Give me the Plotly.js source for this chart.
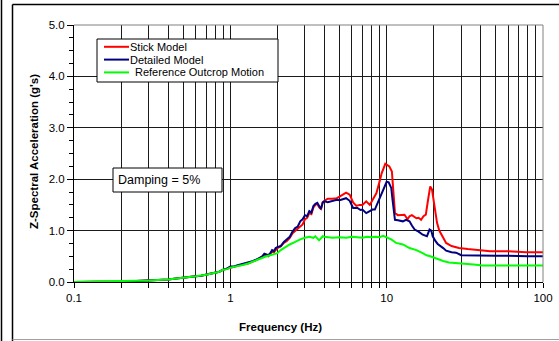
<!DOCTYPE html>
<html>
<head>
<meta charset="utf-8">
<script src="https://cdn.plot.ly/plotly-3.0.1.min.js"></script>
<style>html,body{margin:0;padding:0;background:#fff;}#chart{width:559px;height:341px;}</style>
</head>
<body>
<div id="chart"></div>
<script>
// ---- data ----
const seriesNames = ['Stick Model', 'Detailed Model', 'Reference Outcrop Motion'];
const seriesColors = ['#FF0000', '#000080', '#00FF00'];

const stickFreq = [0.1,0.15,0.2,0.25,0.3,0.35,0.4,0.45,0.5,0.55,0.6,0.65,0.7,0.75,0.8,0.85,0.9,0.95,1.0,1.1,1.2,1.3,1.4,1.5,1.6,1.65,1.75,1.8,1.85,1.9,1.95,2.0,2.1,2.2,2.3,2.4,2.5,2.6,2.7,2.8,2.9,3.0,3.1,3.2,3.3,3.4,3.5,3.6,3.7,3.8,3.9,4.0,4.2,4.5,4.8,5.0,5.3,5.5,5.8,6.1,6.4,6.7,7.0,7.4,7.8,8.1,8.6,9.0,9.3,9.8,10.4,10.8,11.0,11.3,11.8,12.5,13.0,13.6,14.0,14.5,15.0,15.5,16.0,16.6,17.2,17.8,18.4,19.0,19.5,20.2,21.0,21.7,23,24,26,29,33,39,46,60,78,100];
const stickAcc  = [0,0,0.01,0.02,0.03,0.04,0.05,0.07,0.08,0.10,0.11,0.12,0.14,0.16,0.18,0.20,0.24,0.26,0.29,0.31,0.34,0.36,0.40,0.44,0.49,0.53,0.50,0.54,0.60,0.58,0.63,0.66,0.69,0.76,0.80,0.86,0.95,1.00,1.03,1.08,1.12,1.22,1.25,1.34,1.32,1.45,1.50,1.52,1.45,1.42,1.55,1.58,1.62,1.62,1.63,1.66,1.70,1.74,1.70,1.55,1.48,1.50,1.50,1.57,1.50,1.60,1.73,1.95,2.12,2.30,2.25,2.15,1.80,1.34,1.30,1.30,1.31,1.22,1.28,1.30,1.26,1.24,1.25,1.21,1.28,1.31,1.60,1.86,1.80,1.47,1.15,1.00,0.85,0.76,0.70,0.66,0.64,0.62,0.60,0.60,0.58,0.58];

const detailedFreq = [0.1,0.15,0.2,0.25,0.3,0.35,0.4,0.45,0.5,0.55,0.6,0.65,0.7,0.75,0.8,0.85,0.9,0.95,1.0,1.05,1.1,1.2,1.3,1.4,1.5,1.6,1.65,1.75,1.8,1.85,1.9,1.95,2.0,2.1,2.2,2.3,2.4,2.5,2.6,2.7,2.8,2.9,3.0,3.1,3.2,3.3,3.4,3.5,3.6,3.7,3.8,3.9,4.0,4.2,4.5,4.8,5.0,5.3,5.5,5.8,6.1,6.5,6.8,7.0,7.4,7.8,8.1,8.4,8.8,9.2,9.5,10.0,10.3,10.7,10.9,11.3,11.8,12.7,13.3,14.0,14.5,15.1,16.0,17.0,18.1,18.8,19.3,19.7,20.6,21.2,23,24,26,27.8,30,37,40,50,60,70,80,100];
const detailedAcc  = [0,0,0.01,0.02,0.03,0.04,0.05,0.07,0.08,0.10,0.11,0.12,0.14,0.16,0.18,0.20,0.24,0.26,0.30,0.30,0.32,0.35,0.37,0.41,0.45,0.50,0.55,0.52,0.56,0.62,0.60,0.66,0.68,0.70,0.78,0.83,0.88,0.98,1.05,1.08,1.18,1.22,1.30,1.28,1.38,1.35,1.48,1.52,1.54,1.48,1.42,1.55,1.57,1.55,1.58,1.60,1.59,1.62,1.63,1.58,1.44,1.44,1.40,1.41,1.34,1.38,1.41,1.41,1.55,1.70,1.80,1.95,1.94,1.83,1.60,1.21,1.20,1.18,1.21,1.18,1.10,1.02,0.98,0.92,0.89,1.02,1.00,0.89,0.79,0.74,0.66,0.61,0.58,0.57,0.52,0.51,0.51,0.51,0.51,0.50,0.50,0.50];

const refFreq = [0.1,0.2,0.3,0.4,0.5,0.6,0.7,0.8,0.85,0.9,0.95,1.0,1.1,1.2,1.3,1.4,1.5,1.6,1.7,1.8,1.9,2.0,2.1,2.2,2.4,2.6,2.8,3.0,3.2,3.4,3.5,3.7,3.9,4.0,4.5,5.0,5.5,6.0,6.5,7.0,7.5,8.0,8.5,9.0,9.5,10.0,10.7,11.5,12.7,14.0,15.5,17.0,18.0,19.0,21.0,23,25,28,32,36,41,50,70,100];
const refAcc  = [0,0.01,0.03,0.05,0.08,0.11,0.14,0.18,0.20,0.24,0.25,0.28,0.30,0.33,0.36,0.40,0.43,0.47,0.50,0.52,0.54,0.56,0.62,0.66,0.73,0.78,0.83,0.86,0.88,0.86,0.89,0.81,0.89,0.88,0.86,0.87,0.86,0.88,0.87,0.86,0.88,0.87,0.88,0.87,0.90,0.87,0.83,0.76,0.73,0.66,0.62,0.56,0.52,0.50,0.45,0.41,0.38,0.37,0.35,0.34,0.32,0.32,0.32,0.32];

const xTickVals = [0.1,0.2,0.3,0.4,0.5,0.6,0.7,0.8,0.9,1,2,3,4,5,6,7,8,9,10,20,30,40,50,60,70,80,90,100];
const xTickText = ['0.1','','','','','','','','','1','','','','','','','','','10','','','','','','','','','100'];
const yTickVals = [0,1,2,3,4,5];
const yTickText = ['0.0','1.0','2.0','3.0','4.0','5.0'];

const xTitle = 'Frequency (Hz)';
const yTitle = "Z-Spectral Acceleration (g's)";
const dampingText = 'Damping = 5%';

// ---- geometry helpers (pixel -> paper) ----
const W = 559, H = 341;
const M = {l: 74, r: 16, t: 25, b: 59};
const PW = W - M.l - M.r, PH = H - M.t - M.b;
const px = p => (p - M.l) / PW;
const py = p => (H - M.b - p) / PH;

const font = 'Liberation Sans, Arial, sans-serif';

// traces: draw stick, detailed, then reference on top
const series = [[stickFreq, stickAcc], [detailedFreq, detailedAcc], [refFreq, refAcc]];
const traces = series.map((s, i) => ({
  x: s[0], y: s[1], type: 'scatter', mode: 'lines', name: seriesNames[i],
  line: {color: seriesColors[i], width: 2}, showlegend: false, hoverinfo: 'skip'
}));

const shapes = [];
const annotations = [];

// plot border (top/right gray)
shapes.push({type:'line', xref:'paper', yref:'paper', x0:0, x1:1, y0:1, y1:1, line:{color:'#808080', width:1}});
shapes.push({type:'line', xref:'paper', yref:'paper', x0:1, x1:1, y0:0, y1:1, line:{color:'#808080', width:1}});

// outer chart frame
shapes.push({type:'line', xref:'paper', yref:'paper', x0:px(12.5), x1:px(565), y0:py(4.5), y1:py(4.5), line:{color:'#000', width:1.5}});
shapes.push({type:'line', xref:'paper', yref:'paper', x0:px(12.5), x1:px(12.5), y0:py(4.5), y1:py(345), line:{color:'#000', width:1.5}});
shapes.push({type:'line', xref:'paper', yref:'paper', x0:px(12.5), x1:px(565), y0:py(339.5), y1:py(339.5), line:{color:'#a0a0a0', width:1}});
shapes.push({type:'line', xref:'paper', yref:'paper', x0:px(1.5), x1:px(1.5), y0:py(-5), y1:py(345), line:{color:'#000', width:1.5}});

// legend box
shapes.push({type:'rect', xref:'paper', yref:'paper', x0:px(97), x1:px(278), y0:py(39), y1:py(82), fillcolor:'#fff', line:{color:'#000', width:1}});
const legRowY = [46.8, 59.6, 72.4];
const legTextX = [130, 130, 135];
seriesNames.forEach((n, i) => {
  shapes.push({type:'line', xref:'paper', yref:'paper', x0:px(104), x1:px(129), y0:py(legRowY[i]), y1:py(legRowY[i]), line:{color:seriesColors[i], width:2}});
  annotations.push({text:n, xref:'paper', yref:'paper', x:px(legTextX[i] - 2), y:py(legRowY[i]), xanchor:'left', yanchor:'middle', showarrow:false, font:{family:font, size:11, color:'#000'}});
});

// damping box
shapes.push({type:'rect', xref:'paper', yref:'paper', x0:px(113), x1:px(222), y0:py(168), y1:py(192), fillcolor:'#fff', line:{color:'#000', width:1}});
annotations.push({text:dampingText, xref:'paper', yref:'paper', x:px(116), y:py(180), xanchor:'left', yanchor:'middle', showarrow:false, font:{family:font, size:12.5, color:'#000'}});

// axis titles
annotations.push({text:'<b>' + xTitle + '</b>', xref:'paper', yref:'paper', x:px(280), y:py(327), xanchor:'center', yanchor:'middle', showarrow:false, font:{family:font, size:11.5, color:'#000'}});
annotations.push({text:'<b>' + yTitle + '</b>', xref:'paper', yref:'paper', x:px(34), y:py(152), xanchor:'center', yanchor:'middle', textangle:-90, showarrow:false, font:{family:font, size:11.5, color:'#000'}});

const layout = {
  width: W, height: H,
  margin: {l: M.l, r: M.r, t: M.t, b: M.b, pad: 0},
  paper_bgcolor: '#fff', plot_bgcolor: '#fff',
  font: {family: font, size: 11.5, color: '#000'},
  showlegend: false,
  xaxis: {
    type: 'log', range: [-1, 2], tickmode: 'array', tickvals: xTickVals, ticktext: xTickText,
    ticks: 'outside', ticklen: 5, tickwidth: 1, tickcolor: '#000',
    showgrid: true, gridcolor: '#1a1a1a', gridwidth: 1,
    showline: true, linecolor: '#000', linewidth: 1, zeroline: false,
    tickfont: {family: font, size: 11.5, color: '#000'}
  },
  yaxis: {
    range: [0, 5], tickmode: 'array', tickvals: yTickVals, ticktext: yTickText,
    ticks: 'outside', ticklen: 6, tickwidth: 1, tickcolor: '#000',
    minor: {dtick: 0.25, tick0: 0, ticks: 'outside', ticklen: 4, tickcolor: '#000', showgrid: false},
    showgrid: true, gridcolor: '#1a1a1a', gridwidth: 1,
    showline: true, linecolor: '#000', linewidth: 1, zeroline: false,
    tickfont: {family: font, size: 11.5, color: '#000'}
  },
  shapes: shapes,
  annotations: annotations
};

Plotly.newPlot('chart', traces, layout, {staticPlot: true, displayModeBar: false});
</script>
</body>
</html>
